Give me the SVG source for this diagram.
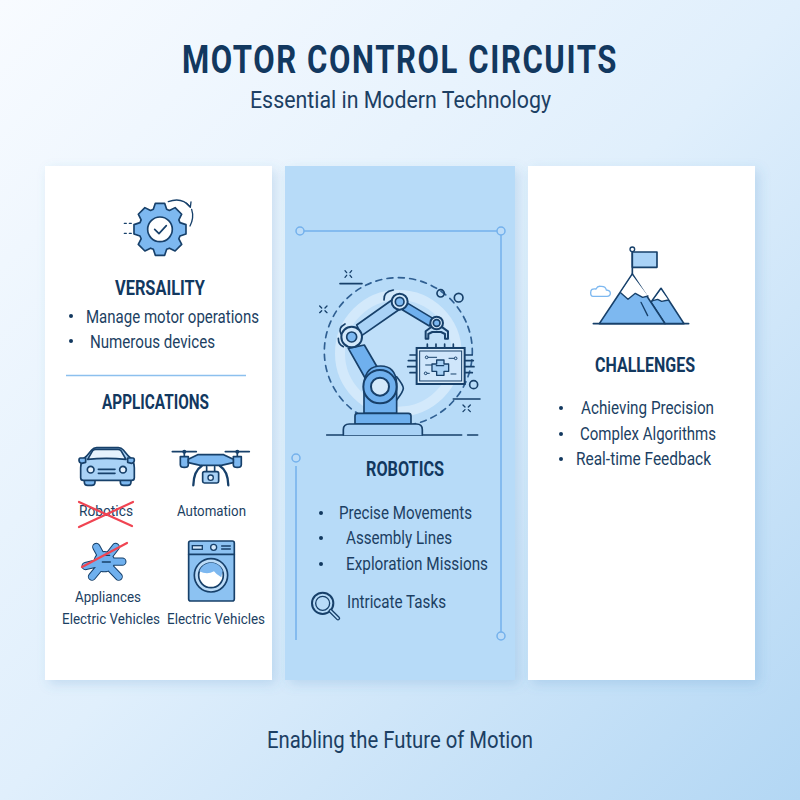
<svg xmlns="http://www.w3.org/2000/svg" width="800" height="800" viewBox="0 0 800 800">
<defs>
<linearGradient id="bg" x1="0" y1="0" x2="1" y2="1"><stop offset="0" stop-color="#f8fbff"/><stop offset=".5" stop-color="#e0effc"/><stop offset="1" stop-color="#b3d7f4"/></linearGradient>
<filter id="sh" x="-10%" y="-5%" width="125%" height="112%"><feDropShadow dx="4" dy="4" stdDeviation="6" flood-color="#4a86c0" flood-opacity=".2"/></filter>
</defs>
<style>
text{font-family:Roboto,"Liberation Sans",sans-serif;fill:#1c3f63;font-size:18px}
.h{font-weight:700;fill:#12385f;font-size:20.500px}
.s{fill:none;stroke:#17406a;stroke-width:5;stroke-linecap:round;stroke-linejoin:round}
.f{fill:#7db8f0;stroke:#17406a;stroke-width:5;stroke-linejoin:round;stroke-linecap:round}
.l{fill:#a9d2f6;stroke:#17406a;stroke-width:5;stroke-linejoin:round;stroke-linecap:round}
.x{stroke:#f04452;stroke-width:2.200;stroke-linecap:round;fill:none}
.fr{stroke:#74b1ec;stroke-width:1.500;fill:none}
.frc{stroke:#74b1ec;stroke-width:1.500;fill:#bcdcf8}
.b{fill:#12385f}
.sm{font-size:15.500px}
</style>
<rect width="800" height="800" fill="url(#bg)"/>
<g id="title">
<text x="182" y="73" class="h" style="font-size:39px;letter-spacing:2px" textLength="436" lengthAdjust="spacingAndGlyphs">MOTOR CONTROL CIRCUITS</text>
<text x="250" y="108" style="font-size:24px" textLength="301" lengthAdjust="spacingAndGlyphs">Essential in Modern Technology</text>
</g>
<g id="card-left">
<rect x="45" y="166" width="227" height="514" fill="#fff" filter="url(#sh)"/>
<g transform="translate(45 170) scale(.3333)">
<path class="f" transform="translate(345 178)" d="M-20-60L-14-78H14L20-60 28.300-56.600 45.300-65.100 65.100-45.300 56.600-28.300 60-20 78-14V14L60 20 56.600 28.300 65.100 45.300 45.300 65.100 28.300 56.600 20 60 14 78H-14L-20 60-28.300 56.600-45.300 65.100-65.100 45.300-56.600 28.300-60 20-78 14V-14L-60-20-56.600-28.300-65.100-45.300-45.300-65.100-28.300-56.600z"/>
<circle cx="345" cy="178" r="37" fill="#fff" stroke="#17406a" stroke-width="5"/>
<path class="s" d="M329 178l13 13 22-24"/>
<path class="s" style="stroke-width:4" d="M370 95q40-15 65 15M440 118q8 25-5 50"/>
<path class="s" style="stroke-width:4" d="M424 100l12 12 2-16"/>
<path class="s" style="stroke-width:4" stroke-dasharray="6 9" d="M238 160h26M238 190h26"/>
</g>
<text x="115" y="295" class="h" textLength="90" lengthAdjust="spacingAndGlyphs">VERSAILITY</text>
<circle class="b" cx="71" cy="316" r="2"/><text x="86" y="323" textLength="173" lengthAdjust="spacingAndGlyphs">Manage motor operations</text>
<circle class="b" cx="71" cy="341" r="2"/><text x="90" y="348" textLength="125" lengthAdjust="spacingAndGlyphs">Numerous devices</text>
<path d="M66 375.500H246" stroke="#8cc0ee" stroke-width="1.500"/>
<text x="102" y="409" class="h" textLength="107" lengthAdjust="spacingAndGlyphs">APPLICATIONS</text>
<g transform="translate(45 430) scale(.3333)">
<g id="car">
<path class="f" d="M118 148v8q0 10 10 10h12q10 0 10-10v-8zM226 148v8q0 10 10 10h12q10 0 10-10v-8z"/>
<path class="l" d="M125 78l15-18q6-7 15-7h65q9 0 15 7l15 18q18 12 18 35v30q0 8-8 8H115q-8 0-8-8v-30q0-23 18-35z"/>
<path class="l" style="fill:#e6f2fd" d="M128 88l15-26q3-4 9-4h67q6 0 9 4l15 26q-60-6-115 0z"/>
<circle cx="137" cy="119" r="10" fill="#e6f2fd" stroke="#17406a" stroke-width="5"/><circle cx="234" cy="119" r="10" fill="#e6f2fd" stroke="#17406a" stroke-width="5"/>
<path class="s" d="M160 118h50M160 130h50"/>
<path class="f" d="M106 84q-4 0-4 7t8 9l12-3v-13zM264 84q4 0 4 7t-8 9l-12-3v-13z"/>
</g>
<g id="drone">
<path class="s" d="M382 65h72M541 65h72"/>
<circle cx="418" cy="65" r="6" fill="#17406a"/><circle cx="577" cy="65" r="6" fill="#17406a"/>
<path class="s" d="M418 65v18M577 65v18"/>
<path class="f" d="M406 80h24v24q0 8-12 8t-12-8zM565 80h24v24q0 8-12 8t-12-8z"/>
<path class="f" d="M430 88l28-14h78l29 14v10l-36 8h-63l-36-8z"/>
<path class="s" style="stroke-width:7" d="M470 108q-24 15-25 58M525 108q24 15 25 58"/>
<path class="s" d="M485 110v15M509 110v15"/>
<rect class="l" x="473" y="125" width="48" height="34" rx="5"/><circle cx="497" cy="143" r="8" fill="#e6f2fd" stroke="#17406a" stroke-width="4"/>
</g>
<g id="knot" stroke-linecap="round" stroke-linejoin="round" fill="none">
<path stroke="#17406a" stroke-width="25" d="M154 351L178 395 212 351M178 395H232M178 395L141 440M178 395L221 440M178 395L122 408"/>
<circle cx="178" cy="395" r="32" fill="#17406a"/>
<path stroke="#6fb0ee" stroke-width="19" d="M154 351L178 395 212 351M178 395H232M178 395L141 440M178 395L221 440M178 395L122 408"/>
<circle cx="178" cy="395" r="29" fill="#6fb0ee"/>
<path class="s" style="stroke-width:4" d="M172 396h24M180 376h14"/>
</g>
<g id="washer">
<rect class="f" style="fill:#8cc2f2" x="431" y="333" width="137" height="180" rx="6"/>
<path class="s" d="M431 373H568"/>
<rect x="442" y="347" width="30" height="11" fill="#d5e9fb" stroke="#17406a" stroke-width="4"/>
<circle cx="506" cy="352" r="9" fill="#d5e9fb" stroke="#17406a" stroke-width="4"/>
<path class="s" style="stroke-width:4" d="M530 348h26M530 357h26"/>
<circle cx="498" cy="436" r="50" fill="#bcdcf8" stroke="#17406a" stroke-width="5"/>
<circle cx="498" cy="436" r="37" fill="#fff" stroke="#17406a" stroke-width="5"/>
<path d="M463 424a37 37 0 0 1 70-2l-4 20q-15-8-22-18-20 12-44 0z" fill="#7db8f0"/>
</g>
</g>
<text x="79" y="516" class="sm" textLength="54" lengthAdjust="spacingAndGlyphs">Robotics</text>
<text x="177" y="516" class="sm" textLength="69" lengthAdjust="spacingAndGlyphs">Automation</text>
<text x="75" y="602" class="sm" textLength="66" lengthAdjust="spacingAndGlyphs">Appliances</text>
<text x="62" y="624" class="sm" textLength="98" lengthAdjust="spacingAndGlyphs">Electric Vehicles</text>
<text x="167" y="624" class="sm" textLength="98" lengthAdjust="spacingAndGlyphs">Electric Vehicles</text>
<path class="x" d="M79 502L132 526M79 527L133 502M82 567L127 543"/>
</g>
<g id="card-middle">
<rect x="285" y="166" width="230" height="514" fill="#b7dbf8" filter="url(#sh)"/>
<path class="fr" d="M304 231H497M501 235V632M296 466V640"/>
<circle class="frc" cx="300" cy="231" r="4"/><circle class="frc" cx="501" cy="231" r="4"/><circle class="frc" cx="501" cy="636" r="4"/><circle class="frc" cx="296" cy="458" r="4"/>
<g transform="translate(285 220) scale(.3333)">
<circle cx="340" cy="400" r="175" fill="#bfdff9" stroke="#d3e9fb" stroke-width="30"/>
<circle cx="340" cy="395" r="222" class="s" stroke-dasharray="18 16" transform="rotate(-20 340 395)" style="stroke:#2f5f92;stroke-width:5"/>
<path class="s" style="stroke-width:5" d="M165 191h66M505 537h80M125 645H530M548 645h30"/>
<path class="s" style="stroke-width:4" d="M180 152l5 6M200 152l-5 6M180 172l5-6M200 172l-5-6M104 258l6 6M126 258l-6 6M104 278l6-6M126 278l-6-6M534 555l6 6M556 555l-6 6M534 575l6-6M556 575l-6-6"/>
<circle class="s" cx="467" cy="220" r="11" style="stroke-width:5"/><circle class="s" cx="521" cy="233" r="13" style="stroke-width:5"/><circle class="s" cx="566" cy="494" r="12" style="stroke-width:5"/>
<path class="l" style="fill:#6fb0ee" d="M190 385l52 92 38-30-42-72z"/>
<path class="l" d="M215 315l110-78 20 30-115 80z"/>
<path class="l" style="fill:#6fb0ee" d="M365 248l80 48-12 22-80-48z"/>
<path class="f" style="fill:#6fb0ee" d="M237 580V490q5-52 50-52t48 52v90z"/>
<path class="s" d="M335 470q20 25 20 35t-20 35"/>
<circle cx="285" cy="500" r="50" fill="#6fb0ee" stroke="#17406a" stroke-width="6"/><circle cx="285" cy="500" r="27" fill="#d3e9fb" stroke="#17406a" stroke-width="6"/>
<circle cx="200" cy="351" r="31" fill="#d3e9fb" stroke="#17406a" stroke-width="6"/><circle cx="200" cy="351" r="15" fill="#7db8f0" stroke="#17406a" stroke-width="5"/>
<path class="s" d="M180 312q-22 12-12 30M160 355q0 20 15 25"/>
<circle cx="344" cy="245" r="24" fill="#d3e9fb" stroke="#17406a" stroke-width="6"/><circle cx="344" cy="245" r="13" fill="#7db8f0" stroke="#17406a" stroke-width="5"/>
<path class="s" d="M325 210q-30 5-28 30"/>
<circle cx="455" cy="309" r="19" fill="#d3e9fb" stroke="#17406a" stroke-width="6"/><circle cx="455" cy="309" r="10" fill="#7db8f0" stroke="#17406a" stroke-width="5"/>
<path class="s" style="stroke-width:6" d="M438 322l-16 12v22M472 322l17 12v22M422 356h8v-14l12-6h26l12 6v14h9"/>
<path class="f" style="fill:#6fb0ee" d="M210 612v-24q0-8 8-8h152q8 0 8 8v24z"/>
<path class="l" d="M175 645v-16q0-17 18-17h202q17 0 17 17v16"/>
<path class="s" style="stroke-width:5" d="M427 384v-12M453 384v-12M479 384v-12M505 384v-12M375 405h20M370 422h25M368 440h27M375 458h20M540 405h22M540 422h25M540 440h27M540 458h22"/>
<rect x="395" y="384" width="144" height="108" fill="#dceefc" stroke="#17406a" stroke-width="6"/>
<rect x="404" y="393" width="126" height="90" fill="#cfe6fb" stroke="#17406a" stroke-width="3"/>
<path class="l" style="stroke-width:4" d="M455 420h22v12h14v22h-14v12h-22v-12h-14v-22h14z"/>
<path class="s" style="stroke-width:4" d="M454 437h22"/>
<path class="s" style="stroke-width:3" d="M425 412h30M510 415h-18M422 435h18M498 462h15M425 460h8"/>
<circle cx="425" cy="412" r="4" fill="#cfe6fb" stroke="#17406a" stroke-width="3"/><circle cx="512" cy="415" r="4" fill="#cfe6fb" stroke="#17406a" stroke-width="3"/><circle cx="422" cy="460" r="4" fill="#cfe6fb" stroke="#17406a" stroke-width="3"/>
</g>
<text x="366" y="476" class="h" textLength="78" lengthAdjust="spacingAndGlyphs">ROBOTICS</text>
<circle class="b" cx="321" cy="513" r="2"/><text x="339" y="519" textLength="133" lengthAdjust="spacingAndGlyphs">Precise Movements</text>
<circle class="b" cx="321" cy="538" r="2"/><text x="346" y="544" textLength="106" lengthAdjust="spacingAndGlyphs">Assembly Lines</text>
<circle class="b" cx="321" cy="564" r="2"/><text x="346" y="570" textLength="142" lengthAdjust="spacingAndGlyphs">Exploration Missions</text>
<g transform="translate(285 440) scale(.3333)">
<circle class="s" cx="113" cy="490" r="32" style="stroke-width:6"/><circle class="s" cx="113" cy="490" r="21" style="stroke-width:4"/>
<path class="s" style="stroke-width:13" d="M137 513l22 22"/><path d="M137 513l22 22" stroke="#b7dbf8" stroke-width="5" stroke-linecap="round"/>
</g>
<text x="347" y="608" textLength="99" lengthAdjust="spacingAndGlyphs">Intricate Tasks</text>
</g>
<g id="card-right">
<rect x="528" y="166" width="227" height="514" fill="#fff" filter="url(#sh)"/>
<g transform="translate(560 230) scale(.3333)">
<path class="s" d="M100 281H386"/>
<path class="f" d="M303 175L273 217 315 281H372z"/>
<path d="M303 179l-24 33 14-4 12 6 20-4z" fill="#fff"/>
<path class="f" d="M217 132L118 281H315z"/>
<path d="M217 136l-35 52 22 20 22-18 22 12 16-4z" fill="#fff"/>
<path class="s" style="stroke-width:4" d="M182 188l22 20 22-18 22 12 16-4M278 212l15-4 12 6 20-4"/>
<path class="s" style="stroke-width:4" d="M243 217l20 40"/>
<path class="s" d="M217 132V65"/>
<circle cx="217" cy="58" r="7" fill="#fff" stroke="#17406a" stroke-width="4"/>
<rect class="l" x="217" y="66" width="74" height="46"/>
<path d="M99 199h42q10 0 10-9t-12-10q-2-12-17-11-9-2-14 8-16-3-16 11 0 11 7 11z" fill="#fff" stroke="#7db8f0" stroke-width="4"/>
</g>
<text x="595" y="372" class="h" textLength="100" lengthAdjust="spacingAndGlyphs">CHALLENGES</text>
<circle class="b" cx="561" cy="408" r="2"/><text x="581" y="414" textLength="133" lengthAdjust="spacingAndGlyphs">Achieving Precision</text>
<circle class="b" cx="561" cy="434" r="2"/><text x="580" y="440" textLength="136" lengthAdjust="spacingAndGlyphs">Complex Algorithms</text>
<circle class="b" cx="561" cy="459" r="2"/><text x="576" y="465" textLength="135" lengthAdjust="spacingAndGlyphs">Real-time Feedback</text>
</g>
<g id="footer"><text x="267" y="748" style="font-size:24px" textLength="266" lengthAdjust="spacingAndGlyphs">Enabling the Future of Motion</text></g>
</svg>
